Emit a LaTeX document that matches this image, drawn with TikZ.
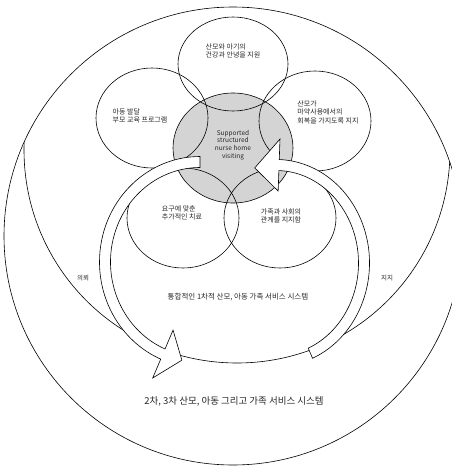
\documentclass[tikz,border=0pt]{standalone}
\usepackage{fontspec}
\newfontfamily\kr{Noto Sans CJK KR}
\usepackage{tikz}
\usetikzlibrary{calc, shapes.geometric}

\begin{document}
\begin{tikzpicture}[
  x=1pt, y=-1pt,
  font=\kr\fontsize{7}{8.5}\selectfont, text=black!85,
  sys/.style={draw, line width=0.6pt},
  petal/.style={draw, ellipse, line width=0.6pt, minimum width=112pt,
    minimum height=100pt, inner sep=0pt},
  hub/.style={petal, fill=black!17, minimum width=120pt, minimum height=110pt},
  band/.style={draw, fill=white, line width=0.6pt, line join=miter},
  lbl/.style={align=left, inner sep=0pt},
]
  \useasboundingbox (0,0) rectangle (452,466);
  \clip (0,0) rectangle (452,466);

  % service systems
  \coordinate (outerC) at (233,236);
  \coordinate (innerC) at (237,150);
  \draw[sys] (outerC) circle[radius=229];
  \begin{scope}
    \clip (outerC) circle[radius=229];
    \draw[sys] (innerC) circle[radius=213];
  \end{scope}

  % flower
  \node[hub] (core) at (233,148) {};
  \node[petal, minimum width=110pt, minimum height=94pt] (top) at (233,64) {};
  \node[petal] (upl) at (152,118) {};
  \node[petal] (upr) at (315,121) {};
  \node[petal] (lowl) at (183,218) {};
  \node[petal] (lowr) at (280,218) {};

  % referral / support arrows
  \coordinate (Lc) at (200,262);
  \coordinate (Rc) at (276,263);
  \draw[band] (Lc) ++(270:100.5 and 105.5)
      arc[start angle=270, end angle=113, x radius=100.5, y radius=105.5]
      -- ($(Lc)+(113:121 and 126)$) -- ($(Lc)+(101:95 and 100)$)
      -- ($(Lc)+(113:69 and 74)$) -- ($(Lc)+(113:89.5 and 94.5)$)
      arc[start angle=113, end angle=270, x radius=89.5, y radius=94.5] -- cycle;
  \draw[band] (Rc) ++(67:93.5 and 103.5)
      arc[start angle=67, end angle=-88, x radius=93.5, y radius=103.5]
      -- ($(Rc)+(-88:114 and 124)$) -- ($(Rc)+(-104:88 and 98)$)
      -- ($(Rc)+(-88:62 and 72)$) -- ($(Rc)+(-88:82.5 and 92.5)$)
      arc[start angle=-88, end angle=67, x radius=82.5, y radius=92.5] -- cycle;

  % texts
  \node[lbl] (tTop) at (233,51) {산모와 아기의\\건강과 안녕을 지원};
  \node[lbl] (tUpl) at (140,116) {아동 발달\\부모 교육 프로그램};
  \node[lbl] (tUpr) at (328,112) {산모가\\마약사용에서의\\회복을 가지도록 지지};
  \node[align=center, inner sep=0pt, font=\kr\fontsize{6.5}{7.6}\selectfont]
    (tCore) at (233,145) {Supported\\structured\\nurse home\\visiting};
  \node[lbl] (tLowl) at (182,213) {요구에 맞춘\\추가적인 치료};
  \node[lbl] (tLowr) at (281,216) {가족과 사회의\\관계를 지지함};
  \node[font=\kr\fontsize{6.5}{7.5}\selectfont] (tRef) at (83,278) {의뢰};
  \node[font=\kr\fontsize{6.5}{7.5}\selectfont] (tSup) at (387,278) {지지};
  \node[font=\kr\fontsize{7.5}{9}\selectfont] (tPri) at (238,297)
    {통합적인 1차적 산모, 아동 가족 서비스 시스템};
  \node[font=\kr\fontsize{9.5}{11}\selectfont] (tSec) at (234,401)
    {2차, 3차 산모, 아동 그리고 가족 서비스 시스템};
\end{tikzpicture}
\end{document}
